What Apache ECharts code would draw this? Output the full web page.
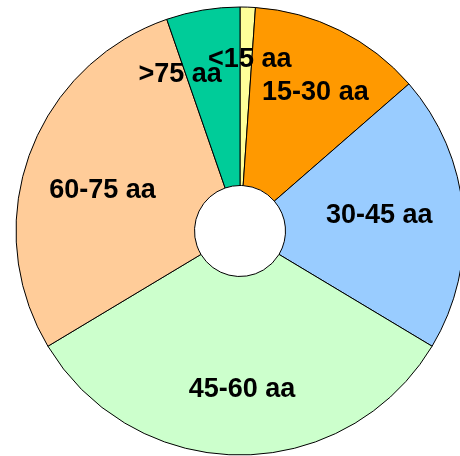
<!DOCTYPE html>
<html>
<head>
<meta charset="utf-8">
<script src="https://cdn.jsdelivr.net/npm/echarts@6/dist/echarts.min.js"></script>
<style>
html,body{margin:0;padding:0;background:#fff;}
#chart{width:460px;height:456px;}
</style>
</head>
<body>
<div id="chart"></div>
<script>
var categories = ['<15 aa', '15-30 aa', '30-45 aa', '45-60 aa', '60-75 aa', '>75 aa'];
var values = [1.1, 12.5, 20.0, 32.8, 28.3, 5.3];
var colors = ['#FFFF99', '#FF9900', '#99CCFF', '#CCFFCC', '#FFCC99', '#00CC99'];

// label nudges (style only) to mimic the original label placement
var labelNudges = [[5, -34], [14, -15], [2, -3], [2, 21], [-8, 7], [-37, -21]];

var chart = echarts.init(document.getElementById('chart'), null, {renderer: 'canvas'});
chart.setOption({
  animation: false,
  series: [{
    type: 'pie',
    center: [240, 231],
    radius: [45.5, 224],
    startAngle: 90,
    clockwise: true,
    avoidLabelOverlap: false,
    minShowLabelAngle: 0,
    labelLayout: {hideOverlap: false},
    itemStyle: {borderColor: '#000', borderWidth: 1},
    label: {
      show: true,
      position: 'inside',
      formatter: '{b}',
      color: '#000',
      fontFamily: 'Liberation Sans, Arial, sans-serif',
      fontWeight: 'bold',
      fontSize: 27,
      overflow: 'none'
    },
    labelLine: {show: false},
    emphasis: {disabled: true},
    data: categories.map(function (c, i) {
      return {
        name: c,
        value: values[i],
        itemStyle: {color: colors[i]},
        label: {offset: labelNudges[i]}
      };
    })
  }]
});
</script>
</body>
</html>
